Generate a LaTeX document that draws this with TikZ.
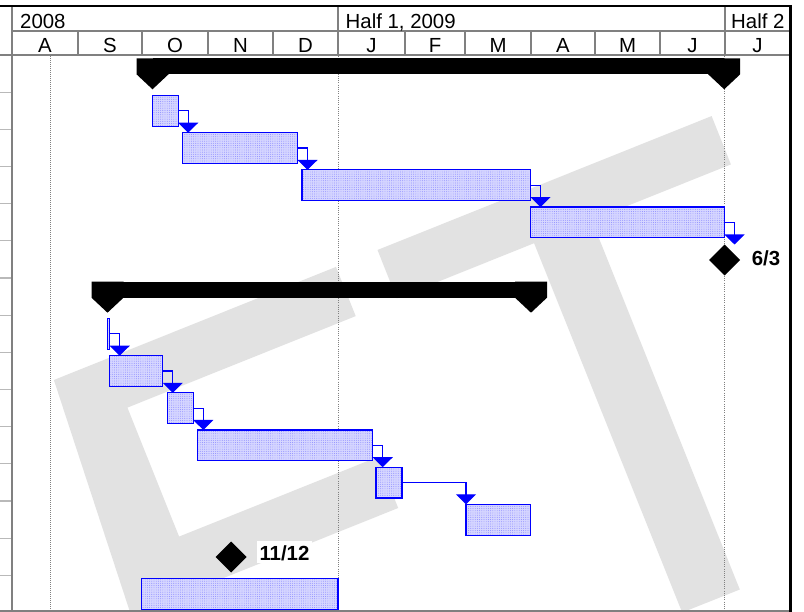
\documentclass[tikz,border=0pt]{standalone}
\usepackage{fontspec}
\setmainfont{Liberation Sans}
\usetikzlibrary{arrows.meta,shapes.geometric,calc,patterns.meta}

\definecolor{wmgray}{RGB}{226,226,226}
\definecolor{gridgray}{RGB}{128,128,128}
\definecolor{tickgray}{RGB}{185,185,185}
\definecolor{barfill}{RGB}{214,214,255}
\definecolor{bardot}{RGB}{130,130,255}
\definecolor{linkblue}{RGB}{0,0,255}

% summary bar: start x, end x, top y
\newcommand\sumbar[3]{%
  \fill[black] ({#1},{#3}) rectangle ({#2},{#3+16});
  \fill[black] ({#1-16},{#3}) -- ({#1+16},{#3}) -- ({#1+16},{#3+16})
    -- ({#1},{#3+31}) -- ({#1-16},{#3+16}) -- cycle;
  \fill[black] ({#2-16},{#3}) -- ({#2+16},{#3}) -- ({#2+16},{#3+16})
    -- ({#2},{#3+31}) -- ({#2-16},{#3+16}) -- cycle;
}

\begin{document}
\begin{tikzpicture}[x=1pt,y=-1pt,
  hdr/.style={font=\fontsize{20.4}{24}\selectfont, inner sep=0pt, anchor=base},
  mslabel/.style={font=\fontsize{20.4}{24}\selectfont\bfseries, fill=white,
    inner xsep=2.5pt, inner ysep=0.5pt, text height=19pt, text depth=1.5pt,
    anchor=base west},
  taskbar/.style={draw=linkblue, line width=1.2pt, preaction={fill=barfill},
    pattern={Dots[distance=2.2pt,radius=0.45pt]}, pattern color=bardot,
    inner sep=0pt, outer sep=0pt, anchor=north west, minimum height=30.8pt},
  milestone/.style={diamond, aspect=1, fill=black, inner sep=0pt,
    minimum width=31pt, minimum height=31pt, outer sep=0pt},
  link/.style={draw=linkblue, line width=1.2pt,
    -{Triangle[width=20pt,length=10pt]}},
  gridline/.style={draw=gridgray, line width=2pt},
  rowtick/.style={draw=tickgray, line width=1.2pt},
  nowline/.style={draw=gridgray, line width=1.5pt, dash pattern=on 1pt off 1pt},
  dateline/.style={draw=gridgray, line width=0.8pt, dash pattern=on 1pt off 1.2pt}]

\useasboundingbox (0,0) rectangle (804,612);
\clip (0,0) rectangle (804,612);
\fill[white] (0,0) rectangle (804,612);

% light grey letters in the background
\fill[wmgray] (53.9,380) -- (336.0,266.9) -- (355.7,316.1) -- (127.4,407.6)
  -- (179.1,536.6) -- (377.7,457.0) -- (398.2,508.0) -- (145.8,609.2)
  -- (145.8,612) -- (130,612) -- cycle;
\fill[wmgray] (377.5,250) -- (711.6,116.1) -- (730.9,164.4) -- (591.7,220.2)
  -- (739.8,589.5) -- (682.2,612.5) -- (534.1,243.2) -- (396.8,298.3) -- cycle;

% row ticks of the task table
\foreach \r in {1,...,14}
  \draw[rowtick] (0,{55+37.17*\r}) -- (12,{55+37.17*\r});

% time lines
\draw[nowline] (50.5,56) -- (50.5,610);
\draw[dateline] (338,56) -- (338,610);
\draw[dateline] (724.5,56) -- (724.5,610);

% summary bars
\sumbar{152.5}{724.2}{58.3}
\sumbar{107.5}{531}{281.7}

% tasks
\node[taskbar, minimum width=25.7pt]  (t1)  at (152.5,95.5)  {};
\node[taskbar, minimum width=115.2pt] (t2)  at (182.3,132.7) {};
\node[taskbar, minimum width=228.5pt] (t3)  at (302,169.9)   {};
\node[taskbar, minimum width=194pt]   (t4)  at (530.5,207.1) {};
\node[milestone] (m1) at (724.5,260) {};
\node[mslabel] (m1lbl) at (749.2,265.3) {6/3};

\node[taskbar, minimum width=2pt]     (t7)  at (107.7,318.5) {};
\node[taskbar, minimum width=53.4pt]  (t8)  at (109.3,355.7) {};
\node[taskbar, minimum width=26pt]    (t9)  at (167.3,392.8) {};
\node[taskbar, minimum width=175.5pt] (t10) at (197.2,430)   {};
\node[taskbar, minimum width=26pt]    (t11) at (376,467.2)   {};
\node[taskbar, minimum width=64.3pt]  (t12) at (466,504.3)   {};
\node[milestone] (m2) at (231.2,557) {};
\node[mslabel] (m2lbl) at (256.8,560.7) {11/12};
\node[taskbar, minimum width=196.5pt] (t14) at (141.5,578.7) {};

% finish-to-start links
\draw[link] (t1.east) -| ($(t1.east |- t2.north)+(10,0)$);
\draw[link] (t2.east) -| ($(t2.east |- t3.north)+(10,0)$);
\draw[link] (t3.east) -| ($(t3.east |- t4.north)+(10,0)$);
\draw[link] (t4.east) -| ($(t4.east |- m1.north)+(10,0)$);
\draw[link] (t7.east) -| ($(t7.east |- t8.north)+(10,0)$);
\draw[link] (t8.east) -| ($(t8.east |- t9.north)+(10,0)$);
\draw[link] (t9.east) -| ($(t9.east |- t10.north)+(10,0)$);
\draw[link] (t10.east) -| ($(t10.east |- t11.north)+(10,0)$);
\draw[link] (t11.east) -| (t12.north west);

% timescale header
\fill[white] (12,7) rectangle (789,54);
\draw[gridline] (12,31) -- (789,31);
\draw[gridline] (0,55) -- (789,55);
\draw[gridline] (338,6) -- (338,31);
\draw[gridline] (725,6) -- (725,31);
\foreach \mx in {78,142,208,273,338,405,465,531,595,660,725}
  \draw[gridline] (\mx,31) -- (\mx,55);
\draw[gridline] (12,6) -- (12,612);
\draw[gridline] (0,610.8) -- (789,610.8);
\draw[black, line width=2.4pt] (0,6.2) -- (792,6.2);
\draw[black, line width=3pt] (790.5,5) -- (790.5,612);

\node[hdr, anchor=base west] (yr1) at (20,28.3) {2008};
\node[hdr, anchor=base west] (yr2) at (345.5,28.3) {Half 1, 2009};
\node[hdr, anchor=base west] (yr3) at (731,28.3) {Half 2};

\node[hdr] (mo1)  at (45,52.3)    {A};
\node[hdr] (mo2)  at (110,52.3)   {S};
\node[hdr] (mo3)  at (175,52.3)   {O};
\node[hdr] (mo4)  at (240.5,52.3) {N};
\node[hdr] (mo5)  at (305.5,52.3) {D};
\node[hdr] (mo6)  at (371.5,52.3) {J};
\node[hdr] (mo7)  at (435,52.3)   {F};
\node[hdr] (mo8)  at (498,52.3)   {M};
\node[hdr] (mo9)  at (563,52.3)   {A};
\node[hdr] (mo10) at (627.5,52.3) {M};
\node[hdr] (mo11) at (692.5,52.3) {J};
\node[hdr] (mo12) at (757.5,52.3) {J};
\end{tikzpicture}
\end{document}
